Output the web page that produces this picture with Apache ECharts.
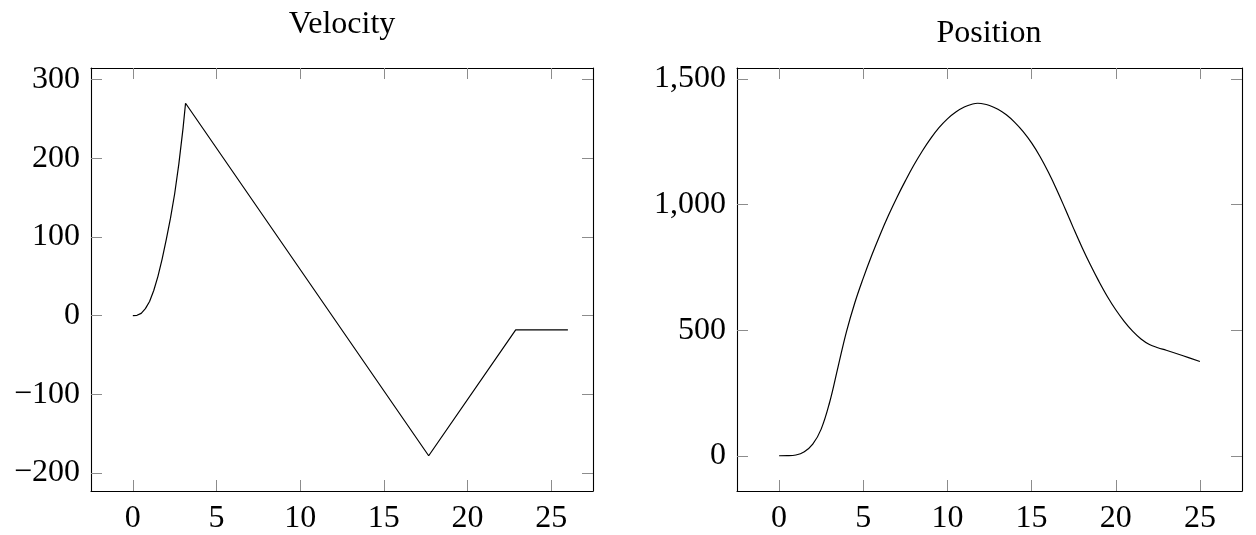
<!DOCTYPE html>
<html>
<head>
<meta charset="utf-8">
<script src="https://cdn.jsdelivr.net/npm/echarts@6/dist/echarts.min.js"></script>
<style>
html,body{margin:0;padding:0;background:#fff;}
#chart{width:1256px;height:535px;}
</style>
</head>
<body>
<div id="chart"></div>
<script>
// Velocity data
const velT = [0, 0.25, 0.5, 0.75, 1, 1.25, 1.5, 1.75, 2, 2.25, 2.5, 2.75, 3, 3.15, 17.68, 22.88, 26];
const velV = [0, 0.5, 3, 9, 18, 32, 50, 72, 97, 124, 155, 193, 238, 270, -178, -18, -18];

// Position data
const posT = [0, 0.5, 1, 1.5, 2, 2.5, 3, 3.5, 4, 4.5, 5, 5.5, 6, 6.5, 7, 7.5, 8, 8.5, 9, 9.5, 10, 10.5, 11, 11.5, 11.8, 12, 12.5, 13, 13.5, 14, 14.5, 15, 15.5, 16, 16.5, 17, 17.5, 18, 18.5, 19, 19.5, 20, 20.5, 21, 21.5, 22, 22.5, 23, 24, 25];
const posP = [0, 0.3, 3, 16, 46, 106, 212, 353, 493, 609, 707, 797, 880, 957, 1028, 1094, 1156, 1212, 1262, 1306, 1341, 1368, 1388, 1400, 1403, 1402, 1394, 1379, 1357, 1327, 1290, 1245, 1191, 1128, 1058, 982, 904, 829, 759, 694, 634, 581, 535, 496, 465, 443, 430, 420, 398, 375];

// Tick labels
const xTicks = [0, 5, 10, 15, 20, 25];
const velTicks = [-200, -100, 0, 100, 200, 300];
const posTicks = [0, 500, 1000, 1500];

const titles = ['Velocity', 'Position'];

const FONT = '"Liberation Serif", "Times New Roman", serif';

function pair(t, v) { return t.map((x, i) => [x, v[i]]); }
function padRange(arr, frac) {
  const mn = Math.min(...arr), mx = Math.max(...arr), r = mx - mn;
  return [mn - frac * r, mx + frac * r];
}
function fmtNum(v) {
  const s = Math.abs(v).toString().replace(/\B(?=(\d{3})+(?!\d))/g, ',');
  return (v < 0 ? '\u2212' : '') + s;
}

const xr = padRange(posT, 0.1);
const vr = padRange(velV, 0.1);
const pr = padRange(posP, 0.1);

const lineStyleAxis = { show: true, onZero: false, lineStyle: { color: '#000', width: 1.1 } };
const labelStyle = { fontFamily: FONT, fontSize: 32, color: '#000' };

function tick(vals) {
  return { show: true, inside: true, length: 11, customValues: vals, lineStyle: { color: '#8c8c8c', width: 1 } };
}

function xAxes(gi) {
  return [
    { type: 'value', gridIndex: gi, position: 'bottom', min: xr[0], max: xr[1],
      axisLine: lineStyleAxis, axisTick: tick(xTicks), splitLine: { show: false },
      axisLabel: Object.assign({ margin: 12, customValues: xTicks, formatter: fmtNum }, labelStyle) },
    { type: 'value', gridIndex: gi, position: 'top', min: xr[0], max: xr[1],
      axisLine: lineStyleAxis, axisTick: tick(xTicks), splitLine: { show: false }, axisLabel: { show: false } }
  ];
}
function yAxes(gi, r, ticks) {
  return [
    { type: 'value', gridIndex: gi, position: 'left', min: r[0], max: r[1],
      axisLine: lineStyleAxis, axisTick: tick(ticks), splitLine: { show: false },
      axisLabel: Object.assign({ margin: 11, customValues: ticks, formatter: fmtNum }, labelStyle) },
    { type: 'value', gridIndex: gi, position: 'right', min: r[0], max: r[1],
      axisLine: lineStyleAxis, axisTick: tick(ticks), splitLine: { show: false }, axisLabel: { show: false } }
  ];
}

const chart = echarts.init(document.getElementById('chart'), null, { renderer: 'canvas' });
chart.setOption({
  animation: false,
  backgroundColor: '#fff',
  grid: [
    { left: 91, top: 68, width: 502, height: 431, containLabel: false },
    { left: 737, top: 68, width: 505, height: 431, containLabel: false }
  ],
  xAxis: xAxes(0).concat(xAxes(1)),
  yAxis: yAxes(0, vr, velTicks).concat(yAxes(1, pr, posTicks)),
  graphic: [
    { type: 'text', x: 342, y: 41, style: { text: titles[0], font: '32px ' + FONT, fill: '#000', textAlign: 'center', textVerticalAlign: 'bottom' } },
    { type: 'text', x: 989, y: 50, style: { text: titles[1], font: '32px ' + FONT, fill: '#000', textAlign: 'center', textVerticalAlign: 'bottom' } }
  ],
  series: [
    { type: 'line', xAxisIndex: 0, yAxisIndex: 0, data: pair(velT, velV), showSymbol: false, symbol: 'none',
      lineStyle: { color: '#000', width: 1.2 } },
    { type: 'line', xAxisIndex: 2, yAxisIndex: 2, data: pair(posT, posP), showSymbol: false, symbol: 'none',
      smooth: 0.4, lineStyle: { color: '#000', width: 1.2 } }
  ]
});
</script>
</body>
</html>
